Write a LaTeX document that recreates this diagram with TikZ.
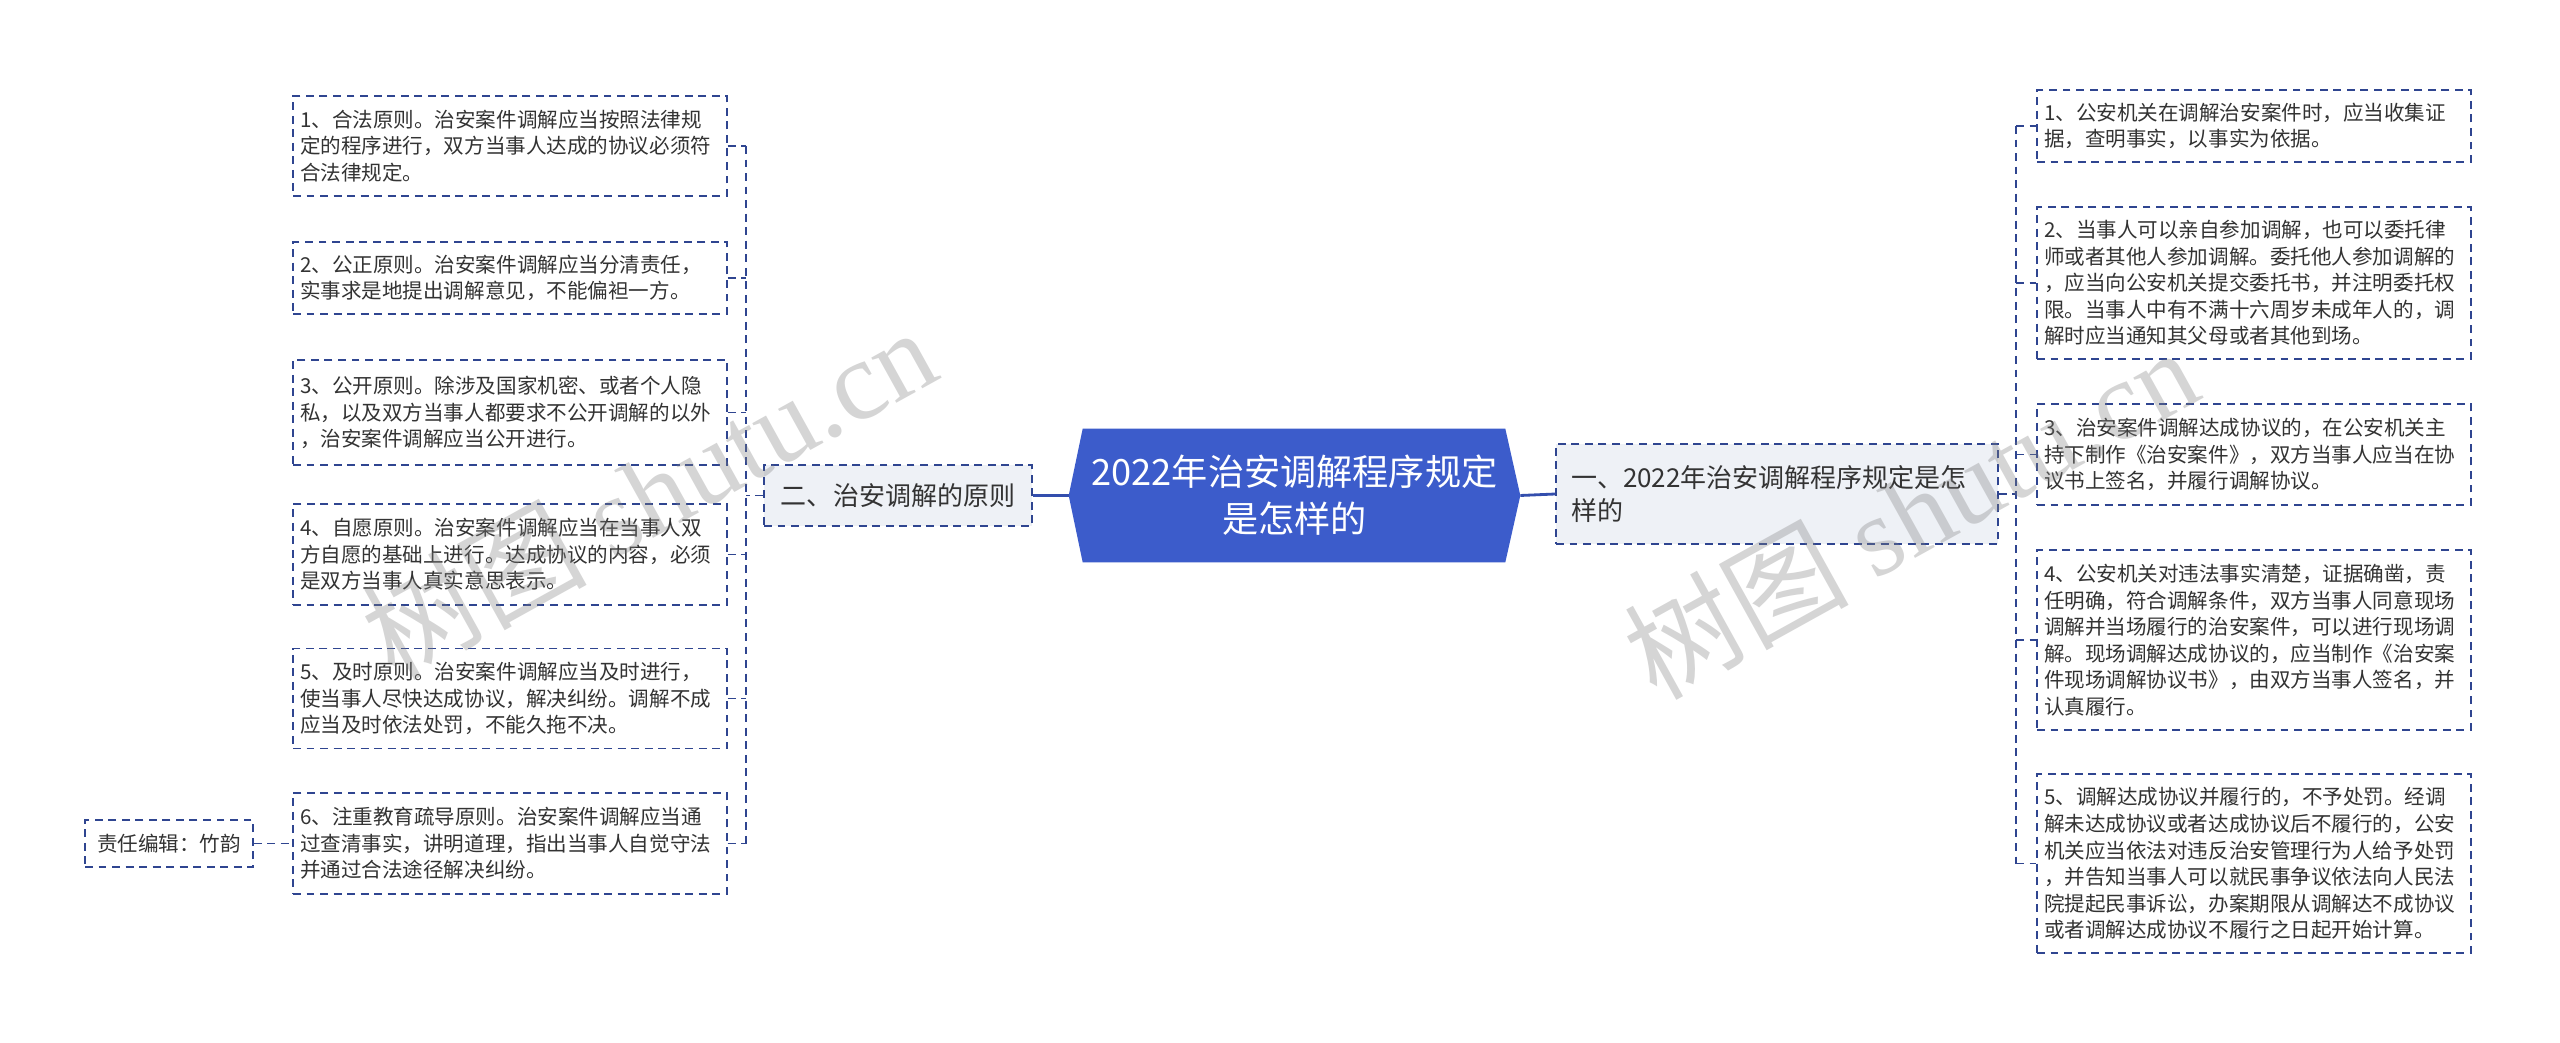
\documentclass[tikz,border=0pt]{standalone}
\usepackage{fontspec}
\setmainfont{Noto Sans CJK SC}
\newfontfamily\wmfont{Liberation Serif}
\usetikzlibrary{positioning,calc,backgrounds}
\definecolor{linkblue}{HTML}{2F4590}
\definecolor{rootblue}{HTML}{3C5CCB}
\definecolor{branchgray}{HTML}{EEF1F6}
\definecolor{inkgray}{HTML}{333333}

\begin{document}
\begin{tikzpicture}[x=0.02cm, y=-0.02cm,
      root/.style={rectangle, minimum width=9.02cm, minimum height=2.66cm, text=white, align=center, font=\fontsize{20.6}{26.8}\selectfont},
      branch/.style={rectangle, draw=linkblue, dash pattern=on 4.5pt off 3.2pt, line width=0.8pt, fill=branchgray, text=inkgray, font=\fontsize{14.8}{19.3}\selectfont},
      leaf/.style={rectangle, draw=linkblue, dash pattern=on 4.5pt off 3.2pt, line width=0.8pt, text=inkgray, text width=8.4cm, inner xsep=0.14cm, align=left, font=\fontsize{11.7}{15.1}\selectfont},
      link/.style={draw=linkblue, line width=0.8pt, dash pattern=on 4.5pt off 3.2pt},
      trunk/.style={draw=rootblue!85!black, line width=1.6pt},
      wmark/.style={rotate=29, text=gray, opacity=0.33, font=\fontsize{64}{64}\selectfont}
      ]
      \useasboundingbox (0,0) rectangle (2560,1043);
      \begin{scope}[on background layer]
        \fill[white] (0,0) rectangle (2560,1043);
      \end{scope}
      % centre
      \node (root) [root] at (1294.5,495.5) {2022年治安调解程序规定\\是怎样的};
      \begin{scope}[on background layer]
        \fill[rootblue] (root.west) -- ($(root.north west)+(14,0)$) -- ($(root.north east)+(-15,0)$) -- (root.east)
          -- ($(root.south east)+(-15,0)$) -- ($(root.south west)+(14,0)$) -- cycle;
      \end{scope}
      \node (two) [branch, minimum width=5.36cm, minimum height=1.22cm] at (898,495.5) {二、治安调解的原则};
      \node (one) [branch, minimum width=8.84cm, minimum height=2cm, text width=8.24cm, inner xsep=0.3cm, align=left] at (1777,494) {一、2022年治安调解程序规定是怎\\样的};
      % left side
      \node (l1) [leaf, minimum height=2cm]    at (510,146)   {1、合法原则。治安案件调解应当按照法律规\\定的程序进行，双方当事人达成的协议必须符\\合法律规定。};
      \node (l2) [leaf, minimum height=1.44cm] at (510,278)   {2、公正原则。治安案件调解应当分清责任，\\实事求是地提出调解意见，不能偏袒一方。};
      \node (l3) [leaf, minimum height=2.1cm]  at (510,412.5) {3、公开原则。除涉及国家机密、或者个人隐\\私，以及双方当事人都要求不公开调解的以外\\，治安案件调解应当公开进行。};
      \node (l4) [leaf, minimum height=2.02cm] at (510,554.5) {4、自愿原则。治安案件调解应当在当事人双\\方自愿的基础上进行。达成协议的内容，必须\\是双方当事人真实意思表示。};
      \node (l5) [leaf, minimum height=2cm]    at (510,698.5) {5、及时原则。治安案件调解应当及时进行，\\使当事人尽快达成协议，解决纠纷。调解不成\\应当及时依法处罚，不能久拖不决。};
      \node (l6) [leaf, minimum height=2.02cm] at (510,843.5) {6、注重教育疏导原则。治安案件调解应当通\\过查清事实，讲明道理，指出当事人自觉守法\\并通过合法途径解决纠纷。};
      \node (ed) [leaf, text width=, align=center, minimum width=3.36cm, minimum height=0.94cm] at (169,843.5) {责任编辑：竹韵};
      % right side
      \node (r1) [leaf, minimum height=1.44cm] at (2254,126)   {1、公安机关在调解治安案件时，应当收集证\\据，查明事实，以事实为依据。};
      \node (r2) [leaf, minimum height=3.04cm] at (2254,283)   {2、当事人可以亲自参加调解，也可以委托律\\师或者其他人参加调解。委托他人参加调解的\\，应当向公安机关提交委托书，并注明委托权\\限。当事人中有不满十六周岁未成年人的，调\\解时应当通知其父母或者其他到场。};
      \node (r3) [leaf, minimum height=2.02cm] at (2254,454.5) {3、治安案件调解达成协议的，在公安机关主\\持下制作《治安案件》，双方当事人应当在协\\议书上签名，并履行调解协议。};
      \node (r4) [leaf, minimum height=3.6cm]  at (2254,640)   {4、公安机关对违法事实清楚，证据确凿，责\\任明确，符合调解条件，双方当事人同意现场\\调解并当场履行的治安案件，可以进行现场调\\解。现场调解达成协议的，应当制作《治安案\\件现场调解协议书》，由双方当事人签名，并\\认真履行。};
      \node (r5) [leaf, minimum height=3.58cm] at (2254,863.5) {5、调解达成协议并履行的，不予处罚。经调\\解未达成协议或者达成协议后不履行的，公安\\机关应当依法对违反治安管理行为人给予处罚\\，并告知当事人可以就民事争议依法向人民法\\院提起民事诉讼，办案期限从调解达不成协议\\或者调解达成协议不履行之日起开始计算。};
      % connectors
      \coordinate (lspine) at (746,495);
      \coordinate (rspine) at (2016,495);
      \draw[trunk] (root.west) -- (two.east);
      \draw[trunk] (root.east) -- (one.west);
      \draw[link] (two.west) -- (two.west -| lspine);
      \draw[link] (l1.east -| lspine) -- (l6.east -| lspine);
      \draw[link] (l1.east) -- (l1.east -| lspine);
      \draw[link] (l2.east) -- (l2.east -| lspine);
      \draw[link] (l3.east) -- (l3.east -| lspine);
      \draw[link] (l4.east) -- (l4.east -| lspine);
      \draw[link] (l5.east) -- (l5.east -| lspine);
      \draw[link] (l6.east) -- (l6.east -| lspine);
      \draw[link] (ed.east) -- (l6.west);
      \draw[link] (one.east) -- (one.east -| rspine);
      \draw[link] (r1.west -| rspine) -- (r5.west -| rspine);
      \draw[link] (r1.west -| rspine) -- (r1.west);
      \draw[link] (r2.west -| rspine) -- (r2.west);
      \draw[link] (r3.west -| rspine) -- (r3.west);
      \draw[link] (r4.west -| rspine) -- (r4.west);
      \draw[link] (r5.west -| rspine) -- (r5.west);
      % watermarks
      \node (wm1) [wmark] at (648,492)  {树图 {\wmfont shutu.cn}};
      \node (wm2) [wmark] at (1910,512) {树图 {\wmfont shutu.cn}};
\end{tikzpicture}
\end{document}
